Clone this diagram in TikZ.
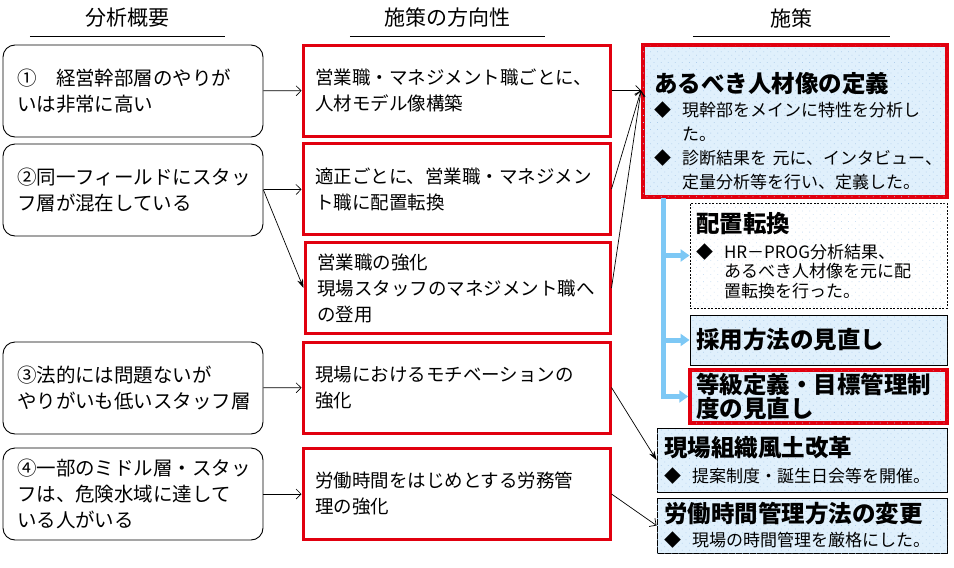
\documentclass[tikz,border=0pt]{standalone}
\usepackage{fontspec}
\usepackage{xcolor}
\usepackage{tikz}
\usetikzlibrary{arrows.meta,patterns.meta}
\setmainfont{Noto Sans CJK JP}

\definecolor{frame}{RGB}{225,0,15}
\definecolor{skyfill}{RGB}{224,240,252}
\definecolor{dotblue}{RGB}{175,205,235}
\definecolor{branchblue}{RGB}{125,200,245}

\newcommand{\bitem}[1]{\makebox[28pt][l]{◆}#1}
\newcommand{\bcont}[1]{\hspace*{28pt}#1}
\newcommand{\mtitle}[1]{{\fontsize{23.5}{28}\selectfont\bfseries #1}}

\begin{document}
\begin{tikzpicture}[
    x=1pt, y=-1pt,
    head/.style={inner sep=0pt, minimum height=36pt, font=\fontsize{21}{24}\selectfont},
    issue/.style={rectangle, draw, rounded corners=12pt, line width=0.9pt, inner sep=0pt,
        minimum width=260pt, minimum height=92pt, text width=232pt, align=left,
        font=\fontsize{19.5}{26}\selectfont},
    policy/.style={rectangle, draw=frame, line width=3pt, inner sep=0pt,
        minimum width=307pt, minimum height=91pt, text width=283pt, align=left,
        font=\fontsize{18.5}{26}\selectfont},
    skybox/.style={fill=skyfill, postaction={pattern={Dots[distance=5pt, radius=0.55pt, angle=45]},
        pattern color=dotblue}},
    measure/.style={rectangle, draw, line width=0.9pt, inner sep=0pt, align=left,
        font=\fontsize{17}{24}\selectfont},
    link/.style={-{Straight Barb[length=5pt,width=10pt]}, line width=0.7pt},
    linkf/.style={-{Stealth[length=9pt,width=6pt]}, line width=0.7pt},
    branch/.style={-{Triangle[length=9pt,width=12pt]}, draw=branchblue, line width=5pt}
]
    \useasboundingbox (0,0) rectangle (954,568);

    % Headers
    \node[head, minimum width=195pt] (h1) at (127.5,18) {分析概要};
    \node[head, minimum width=195pt] (h2) at (447.5,18) {施策の方向性};
    \node[head, minimum width=197pt] (h3) at (791.5,18) {施策};
    \draw[line width=1pt] (h1.south west) -- (h1.south east);
    \draw[line width=1pt] (h2.south west) -- (h2.south east);
    \draw[line width=1pt] (h3.south west) -- (h3.south east);

    % Analysis
    \node[issue] (l1) at (133,91) {①　経営幹部層のやりが\\いは非常に高い};
    \node[issue] (l2) at (133,190) {②同一フィールドにスタッ\\フ層が混在している};
    \node[issue] (l3) at (133,388) {③法的には問題ないが\\やりがいも低いスタッフ層};
    \node[issue] (l4) at (133,494) {④一部のミドル層・スタッ\\フは、危険水域に達して\\いる人がいる};

    % Direction
    \node[policy] (m1) at (456.5,90.5) {営業職・マネジメント職ごとに、\\人材モデル像構築};
    \node[policy] (m2) at (456.5,189) {適正ごとに、営業職・マネジメン\\ト職に配置転換};
    \node[policy, minimum width=305pt, text width=281pt] (m3) at (457.5,288)
        {営業職の強化\\現場スタッフのマネジメント職へ\\の登用};
    \node[policy] (m4) at (456.5,387.5) {現場におけるモチベーションの\\強化};
    \node[policy] (m5) at (456.5,494) {労働時間をはじめとする労務管\\理の強化};

    % Measures
    \node[measure, skybox, draw=frame, line width=4pt, minimum width=304pt, minimum height=152pt,
        text width=282pt] (r1) at (795,121)
        {\rule{0pt}{40pt}\mtitle{あるべき人材像の定義}\\
         \bitem{現幹部をメインに特性を分析し}\\
         \bcont{た。}\\
         \bitem{診断結果を~元に、インタビュー、}\\
         \bcont{定量分析等を行い、定義した。}};
    \node[measure, fill=white, postaction={pattern={Dots[distance=5pt, radius=0.55pt, angle=45]},
        pattern color=dotblue!60}, dash pattern=on 2pt off 1.5pt, line width=0.8pt,
        minimum width=257pt, minimum height=105pt, text width=245pt,
        font=\fontsize{17}{19.5}\selectfont] (r2) at (818.5,255.5)
        {\mtitle{配置転換}\\[6pt]
         \bitem{HR－PROG分析結果、}\\
         \bcont{あるべき人材像を元に配}\\
         \bcont{置転換を行った。}};
    \node[measure, skybox, minimum width=257pt, minimum height=50pt, text width=245pt]
        (r3) at (818.5,340) {\mtitle{採用方法の見直し}};
    \node[measure, skybox, draw=frame, line width=3.5pt, minimum width=257pt, minimum height=53pt,
        text width=245pt] (r4) at (818.5,396.5)
        {\fontsize{23.5}{31}\selectfont\bfseries 等級定義・目標管理制\\度の見直し};
    \node[measure, skybox, minimum width=290pt, minimum height=64pt, text width=276pt]
        (r5) at (802,460) {\mtitle{現場組織風土改革}\\[2pt] \bitem{提案制度・誕生日会等を開催。}};
    \node[measure, skybox, minimum width=290pt, minimum height=55pt, text width=276pt]
        (r6) at (802,525.5) {\mtitle{労働時間管理方法の変更}\\[0pt] \bitem{現場の時間管理を厳格にした。}};

    % Arrows
    \coordinate (r1in) at (m1.east -| r1.west);
    \coordinate (trunk) at (663,198);
    \draw[link] (l1) -- (m1);
    \draw[link] (l2) -- (m2);
    \draw[linkf] (l2.east) -- (m3.west);
    \draw[link] (l3) -- (m4);
    \draw[link] (l4) -- (m5);
    \draw[link] (m1.east) -- (r1in);
    \draw[link] (m2.east) -- (r1in);
    \draw[link] (m3.east) -- (r1in);
    \draw[linkf] (m4.east) -- (r5.west);
    \draw[link] (m5.east) -- (r6.west);
    \draw[branch] (trunk) |- (r2.west);
    \draw[branch] (trunk) |- (r3.west);
    \draw[branch] (trunk) |- (r4.west);
\end{tikzpicture}
\end{document}
